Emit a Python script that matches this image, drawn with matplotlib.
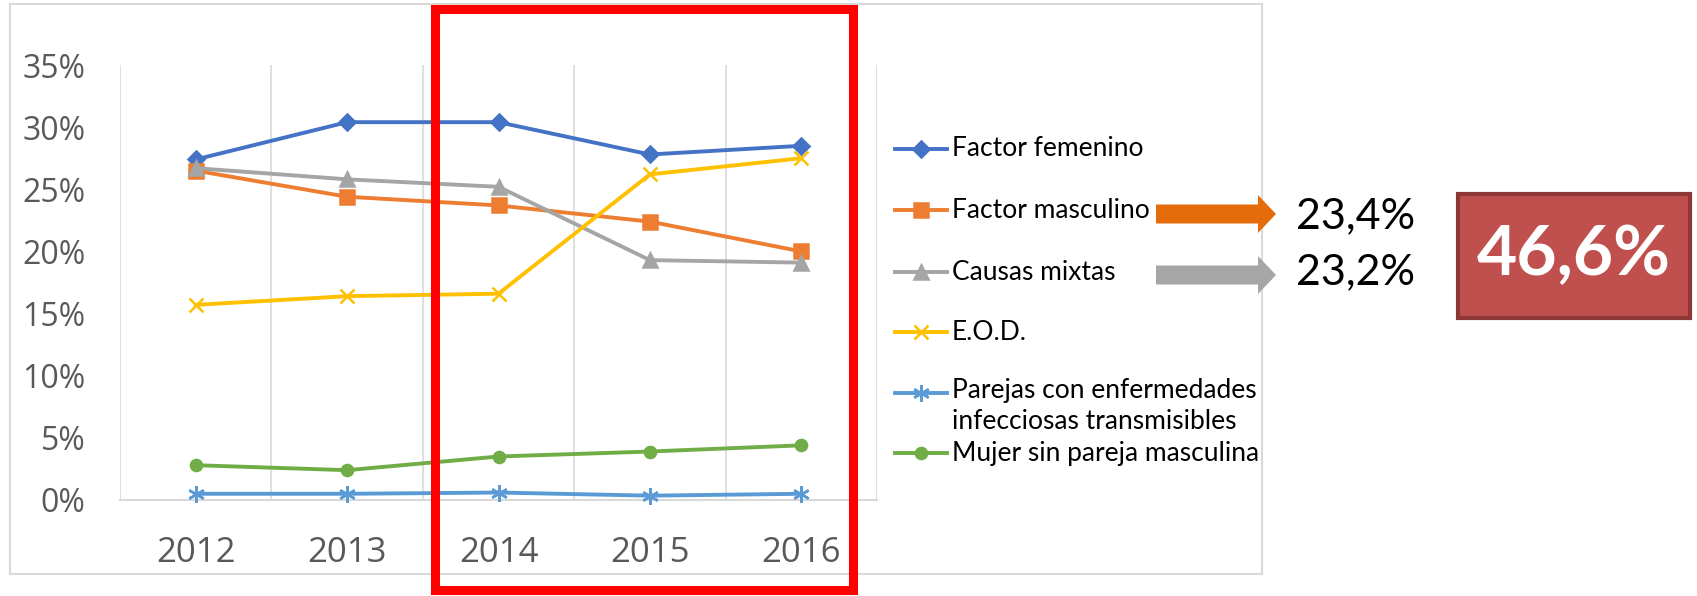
import numpy as np
import matplotlib.pyplot as plt
from matplotlib.lines import Line2D
from matplotlib.patches import Rectangle, FancyArrow
from matplotlib.ticker import PercentFormatter

years = ["2012", "2013", "2014", "2015", "2016"]
femenino = [27.4, 30.4, 30.4, 27.8, 28.5]
masculino = [26.5, 24.4, 23.7, 22.4, 20.0]
mixtas = [26.7, 25.8, 25.2, 19.3, 19.1]
eod = [15.7, 16.4, 16.6, 26.2, 27.5]
parejas = [0.5, 0.5, 0.6, 0.35, 0.5]
mujer = [2.8, 2.4, 3.5, 3.9, 4.4]

series_names = ["Factor femenino", "Factor masculino", "Causas mixtas", "E.O.D.",
                "Parejas con enfermedades\ninfecciosas transmisibles",
                "Mujer sin pareja masculina"]
colors = ["#4472C4", "#ED7D31", "#A5A5A5", "#FFC000", "#5B9BD5", "#70AD47"]
markers = ["D", "s", "^", "x", (6, 2, 0), "o"]
msizes = [8, 10, 10, 10, 12, 8]

pct_masc = "23,4%"
pct_mixtas = "23,2%"
pct_total = "46,6%"

W, H = 1697, 596
fig = plt.figure(figsize=(W / 100, H / 100), dpi=100)
narrow = ["Lato", "DejaVu Sans"]

def fx(px):
    return px / W

def fy(py):
    return 1 - py / H

ax = fig.add_axes([fx(120), fy(500), fx(877) - fx(120), fy(65) - fy(500)])
x = np.arange(len(years))
all_series = [femenino, masculino, mixtas, eod, parejas, mujer]
for vals, c, m, ms in zip(all_series, colors, markers, msizes):
    ax.plot(x, vals, color=c, lw=2.8, marker=m, ms=ms, mew=1.8,
            mec=c, mfc=c, zorder=3, clip_on=False)

ax.set_xlim(-0.5, len(years) - 0.5)
ax.set_ylim(0, 35)
ax.set_yticks(np.arange(0, 36, 5))
ax.yaxis.set_major_formatter(PercentFormatter(decimals=0))
ax.set_xticks(x)
ax.set_xticklabels(years)
for b in np.arange(-0.5, len(years), 1):
    ax.axvline(b, color="#D9D9D9", lw=1.2, zorder=1)
for s in ["top", "right", "left"]:
    ax.spines[s].set_visible(False)
ax.spines["bottom"].set_color("#D9D9D9")
ax.spines["bottom"].set_linewidth(1.5)
ax.tick_params(axis="both", length=0, colors="#595959")
ax.tick_params(axis="y", pad=25, labelsize=23)
ax.tick_params(axis="x", pad=26, labelsize=25)
for lab in ax.get_xticklabels() + ax.get_yticklabels():
    lab.set_fontfamily(["Open Sans", "DejaVu Sans"])

# outer chart frame
fig.add_artist(Rectangle((fx(10), fy(574)), fx(1262) - fx(10), fy(4) - fy(574),
                         transform=fig.transFigure, fill=False,
                         edgecolor="#D9D9D9", lw=1.5))

# legend drawn by hand
leg_y = [149, 210, 272, 332, 393, 453]
for name, c, m, ms, yy in zip(series_names, colors, markers, msizes, leg_y):
    fig.add_artist(Line2D([fx(895), fx(947)], [fy(yy), fy(yy)], transform=fig.transFigure,
                          color=c, lw=2.8))
    fig.add_artist(Line2D([fx(921)], [fy(yy)], transform=fig.transFigure, color=c,
                          marker=m, ms=ms, mew=1.8, mec=c, mfc=c))
    if "\n" in name:
        fig.text(fx(952), fy(yy - 15), name, fontsize=19, family=narrow,
                 va="top", linespacing=1.3)
    else:
        fig.text(fx(952), fy(yy), name, fontsize=19, family=narrow, va="center")

# red highlight box around 2014-2016
fig.add_artist(Rectangle((fx(435), fy(590)), fx(853) - fx(435), fy(9) - fy(590),
                         transform=fig.transFigure, fill=False,
                         edgecolor="#FF0000", lw=6.5))

# arrows
for yy, c in [(214, "#E46C0A"), (275, "#A6A6A6")]:
    fig.add_artist(FancyArrow(fx(1156), fy(yy), fx(1276) - fx(1156), 0,
                              width=19 / H, head_width=38 / H, head_length=fx(18),
                              length_includes_head=True, transform=fig.transFigure,
                              color=c, lw=0))
fig.text(fx(1296), fy(216), pct_masc, fontsize=31, family=narrow, va="center")
fig.text(fx(1296), fy(272), pct_mixtas, fontsize=31, family=narrow, va="center")

fig.add_artist(Rectangle((fx(1458), fy(318)), fx(1690) - fx(1458), fy(194) - fy(318),
                         transform=fig.transFigure, facecolor="#C0504D",
                         edgecolor="#8C3836", lw=3))
fig.text((fx(1458) + fx(1690)) / 2, fy(256), pct_total, fontsize=50, family=narrow,
         weight="bold", color="white", ha="center", va="center")

fig.savefig("out.png", dpi=100)
